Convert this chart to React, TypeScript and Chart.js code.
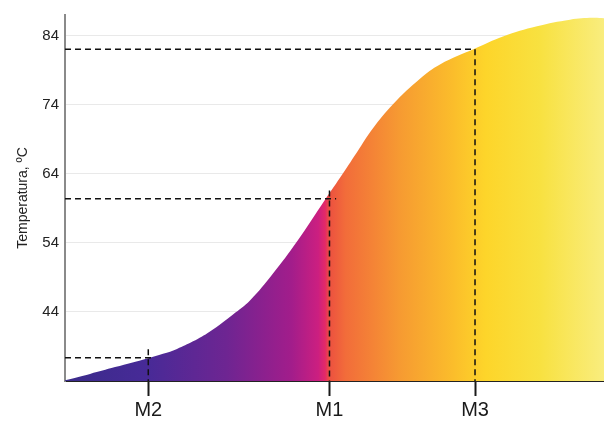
import React, { useEffect, useRef } from "react";
import { Chart, registerables } from "chart.js";

Chart.register(...registerables);

// Curve (x in arbitrary time units 0..100, y in °C)
const curveX = [0, 4.64, 9.28, 15.45, 18.18, 20.78, 23.75, 26.9, 31.17, 34.32, 38.59, 43.04, 48.24, 51.02, 54.17, 57.14, 60.85, 65.86, 69.57, 76.07, 81.26, 87.57, 93.69, 97.96, 100];
const curveY = [34.1, 35.03, 36.01, 37.3, 37.93, 38.65, 39.74, 41.18, 43.64, 45.66, 49.56, 54.19, 60.26, 63.44, 67.14, 70.6, 74.07, 77.77, 79.85, 82.15, 83.9, 85.37, 86.33, 86.59, 86.52];

// Marked points
const markLabels = ["M2", "M1", "M3"];
const markX = [15.45, 49.07, 76.07];
const markY = [37.35, 60.4, 82.05];
const markHExtend = [16.7, 50.3, 76.07];
const markVTop = [38.6, 61.6, 82.05];

const yTicks = [44, 54, 64, 74, 84];
const yMin = 34;
const yMax = 87;
const yTitle = "Temperatura, ºC";

const gradientStops: [number, string][] = [
  [0.0, "#3a2b8a"],
  [0.15, "#472a97"],
  [0.3, "#6e2592"],
  [0.42, "#a21d8b"],
  [0.47, "#cc1f80"],
  [0.483, "#e42a66"],
  [0.49, "#ec5040"],
  [0.52, "#f26c3a"],
  [0.62, "#f69a32"],
  [0.72, "#fbbd2b"],
  [0.78, "#fdd52a"],
  [0.88, "#f8e140"],
  [1.0, "#f9ed7e"],
];

export default function App() {
  const ref = useRef<HTMLCanvasElement>(null);
  useEffect(() => {
    if (!ref.current) return;
    const font = "'Liberation Sans', Arial, Helvetica, sans-serif";
    const dashed: any[] = [];
    markX.forEach((mx, i) => {
      dashed.push({
        data: [
          { x: 0, y: markY[i] },
          { x: markHExtend[i], y: markY[i] },
        ],
        borderColor: "#111",
        borderWidth: 1.5,
        borderDash: [6, 4],
        pointRadius: 0,
        fill: false,
        tension: 0,
        order: 0,
      });
      dashed.push({
        data: [
          { x: mx, y: markVTop[i] },
          { x: mx, y: yMin },
        ],
        borderColor: "#111",
        borderWidth: 1.5,
        borderDash: [6, 4],
        pointRadius: 0,
        fill: false,
        tension: 0,
        order: 0,
      });
    });
    const chart = new Chart(ref.current, {
      type: "line",
      data: {
        datasets: [
          {
            data: curveX.map((x, i) => ({ x, y: curveY[i] })),
            borderWidth: 0,
            borderColor: "rgba(0,0,0,0)",
            pointRadius: 0,
            fill: "start",
            tension: 0.4,
            order: 10,
            backgroundColor: (ctx: any) => {
              const { chart } = ctx;
              const area = chart.chartArea;
              if (!area) return "#888";
              const g = chart.ctx.createLinearGradient(area.left, 0, area.right, 0);
              gradientStops.forEach(([p, c]) => g.addColorStop(p, c));
              return g;
            },
          } as any,
          ...dashed,
        ],
      },
      options: {
        responsive: false,
        animation: false,
        layout: { padding: { top: 15, right: 0, bottom: 0, left: 0 } },
        plugins: { legend: { display: false }, tooltip: { enabled: false } },
        scales: {
          x: {
            type: "linear",
            min: 0,
            max: 100,
            afterBuildTicks: (s: any) => {
              s.ticks = markX.map((v) => ({ value: v }));
            },
            afterFit: (s: any) => {
              s.height = 43;
            },
            ticks: {
              autoSkip: false,
              maxRotation: 0,
              padding: 2,
              color: "#1a1a1a",
              font: { family: font, size: 20 },
              callback: (_v: any, i: number) => markLabels[i],
            },
            grid: {
              display: true,
              drawOnChartArea: false,
              drawTicks: true,
              tickLength: 15,
              tickColor: "#1a1a1a",
              tickWidth: 2,
            },
            border: { display: true, color: "#222", width: 2 },
          },
          y: {
            type: "linear",
            min: yMin,
            max: yMax,
            afterBuildTicks: (s: any) => {
              s.ticks = yTicks.map((v) => ({ value: v }));
            },
            afterFit: (s: any) => {
              s.width = 65;
            },
            ticks: {
              padding: 6,
              color: "#222",
              font: { family: font, size: 15 },
            },
            grid: {
              display: true,
              drawTicks: false,
              color: "#e9e9e9",
              lineWidth: 1,
            },
            border: { display: true, color: "#8a8a8a", width: 2 },
            title: {
              display: true,
              text: yTitle,
              color: "#222",
              font: { family: font, size: 14 },
              padding: { top: 14.5, bottom: 0 },
            },
          },
        },
      },
    });
    return () => chart.destroy();
  }, []);
  return (
    <div style={{ position: "absolute", left: 0, top: 0, width: 604, height: 424, background: "#fff" }}>
      <canvas ref={ref} width={604} height={424} />
    </div>
  );
}
